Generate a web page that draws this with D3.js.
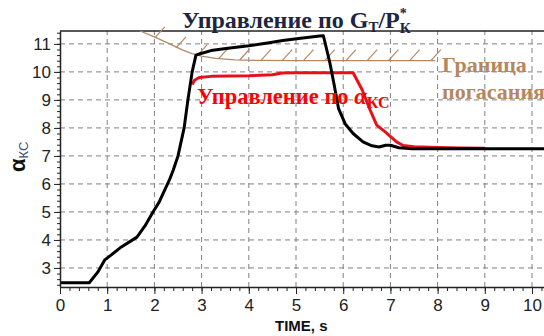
<!DOCTYPE html>
<html>
<head>
<meta charset="utf-8">
<script src="https://cdn.jsdelivr.net/npm/d3@7"></script>
<style>
  html, body { margin: 0; padding: 0; background: #fff; }
  svg { display: block; }
  .tick text { font-family: "Liberation Sans", Arial, sans-serif; font-size: 17px; fill: #222; }
</style>
</head>
<body>
<svg id="chart" width="544" height="336"></svg>
<script>
/* ── Data ──────────────────────────────────────────────────────────────── */
const blackT = [0, 0.62, 0.8, 0.95, 1.06, 1.3, 1.63, 1.8, 1.97, 2.1, 2.22, 2.32, 2.4, 2.5, 2.63, 2.71, 2.8, 2.88, 2.95, 3.2, 3.6, 4.0, 4.4, 4.72, 5.1, 5.5, 5.58, 5.65, 5.72, 5.79, 5.9, 6.04, 6.21, 6.42, 6.61, 6.76, 6.9, 7.0, 7.18, 7.46, 8, 9, 10.3];
const blackA = [2.47, 2.47, 2.85, 3.29, 3.43, 3.75, 4.1, 4.5, 5.0, 5.35, 5.79, 6.15, 6.5, 7.0, 8.0, 9.0, 10.0, 10.6, 10.64, 10.76, 10.85, 10.93, 11.03, 11.12, 11.2, 11.28, 11.29, 10.8, 10.3, 9.7, 8.7, 8.15, 7.8, 7.5, 7.36, 7.32, 7.38, 7.38, 7.29, 7.26, 7.26, 7.26, 7.26];

const redT = [2.8, 2.85, 2.95, 3.2, 3.6, 4.0, 4.5, 4.7, 5.0, 5.5, 6.0, 6.21, 6.4, 6.57, 6.71, 6.89, 7.13, 7.27, 7.5, 8.0, 8.5, 9.0];
const redA = [9.55, 9.7, 9.8, 9.84, 9.85, 9.86, 9.9, 9.96, 9.97, 9.97, 9.97, 9.97, 9.36, 8.64, 8.1, 7.86, 7.5, 7.37, 7.33, 7.3, 7.28, 7.27];

const boundT = [1.7, 2.0, 2.3, 2.6, 2.8, 3.0, 3.3, 3.7, 4.2, 5, 6, 7, 7.95];
const boundA = [11.46, 11.25, 11.02, 10.78, 10.65, 10.56, 10.48, 10.43, 10.41, 10.40, 10.40, 10.40, 10.40];
const hatchT = [2.05, 2.5, 2.95, 3.4, 3.85, 4.3, 4.75, 5.2, 5.65, 6.1, 6.55, 7.0, 7.45, 7.9];

const xTicks = [0, 1, 2, 3, 4, 5, 6, 7, 8, 9, 10];
const yTicks = [3, 4, 5, 6, 7, 8, 9, 10, 11];

/* ── Layout ────────────────────────────────────────────────────────────── */
const svg = d3.select('#chart');
const x = d3.scaleLinear().domain([0, 10.254]).range([60, 544]);
const y = d3.scaleLinear().domain([2.32, 11.46]).range([287, 31]);

const line = (ts, as) => d3.line().x((d, i) => x(ts[i])).y((d, i) => y(as[i]))(ts);

/* grid */
const grid = svg.append('g').attr('stroke', '#808080').attr('stroke-width', 1)
  .attr('stroke-dasharray', '5,4').attr('fill', 'none');
xTicks.filter(d => d > 0).forEach(d => {
  grid.append('line').attr('x1', x(d)).attr('x2', x(d)).attr('y1', y.range()[0]).attr('y2', y.range()[1]);
});
yTicks.forEach(d => {
  grid.append('line').attr('x1', x.range()[0]).attr('x2', x.range()[1]).attr('y1', y(d)).attr('y2', y(d));
});

/* top frame */
svg.append('line').attr('x1', 60).attr('x2', 544).attr('y1', y.range()[1]).attr('y2', y.range()[1])
  .attr('stroke', '#222').attr('stroke-width', 1.5);

/* boundary + hatching */
const bnd = d3.scaleLinear().domain(boundT).range(boundA);
svg.append('path').attr('d', line(boundT, boundA)).attr('fill', 'none')
  .attr('stroke', '#b38a67').attr('stroke-width', 1.3);
svg.append('g').selectAll('line').data(hatchT).join('line')
  .attr('x1', d => x(d) - 2).attr('y1', d => y(bnd(d)))
  .attr('x2', d => x(d) + 8).attr('y2', d => y(bnd(d)) - 11)
  .attr('stroke', '#b38a67').attr('stroke-width', 1.2);

/* curves */
svg.append('path').attr('d', line(redT, redA)).attr('fill', 'none')
  .attr('stroke', '#e8101a').attr('stroke-width', 3).attr('stroke-linejoin', 'round');
svg.append('path').attr('d', line(blackT, blackA)).attr('fill', 'none')
  .attr('stroke', '#000').attr('stroke-width', 3).attr('stroke-linejoin', 'round');

/* axes */
const xAxisG = svg.append('g').attr('transform', `translate(0,${y.range()[0]})`);
xAxisG.call(d3.axisBottom(x).tickValues(d3.range(0, 10.25, 0.2)).tickSize(4).tickFormat(''));
xAxisG.call(g => g.selectAll('.domain').remove());
const xMaj = svg.append('g').attr('transform', `translate(0,${y.range()[0]})`)
  .call(d3.axisBottom(x).tickValues(xTicks).tickSize(7).tickSizeOuter(0).tickPadding(5).tickFormat(d3.format('d')));
xMaj.select('.domain').attr('stroke', '#222').attr('stroke-width', 1.5);

const yAxisG = svg.append('g').attr('transform', `translate(60,0)`);
yAxisG.call(d3.axisLeft(y).tickValues(d3.range(2.4, 11.45, 0.2)).tickSize(3).tickFormat(''));
yAxisG.call(g => g.selectAll('.domain').remove());
const yMaj = svg.append('g').attr('transform', `translate(60,0)`)
  .call(d3.axisLeft(y).tickValues(yTicks).tickSize(6).tickSizeOuter(0).tickPadding(3).tickFormat(d3.format('d')));
yMaj.select('.domain').attr('stroke', '#222').attr('stroke-width', 1.5);
svg.selectAll('.tick line').attr('stroke', '#222');

/* axis titles */
svg.append('text').attr('x', 275).attr('y', 331)
  .attr('font-family', '"Liberation Sans Narrow", "Liberation Sans", Arial, sans-serif')
  .attr('font-weight', 'bold').attr('font-size', 15).attr('fill', '#111')
  .text('TIME, s');

const yt = svg.append('text').attr('transform', 'translate(25,172) rotate(-90)')
  .attr('font-family', '"Liberation Sans", Arial, sans-serif').attr('fill', '#111');
yt.append('tspan').attr('font-weight', 'bold').attr('font-size', 22).text('α');
yt.append('tspan').attr('font-size', 13).attr('dy', 3).attr('fill', '#3a4f7a').text('КС');

/* title */
const serif = '"Liberation Serif", "Times New Roman", serif';
const t = svg.append('text').attr('x', 182).attr('y', 28)
  .attr('font-family', serif).attr('font-weight', 'bold').attr('font-size', 24).attr('fill', '#1c2541');
t.append('tspan').text('Управление по G');
t.append('tspan').attr('font-size', 15).attr('dy', 4).text('Т');
t.append('tspan').attr('dy', -4).text('/P');
t.append('tspan').attr('font-size', 14).attr('dy', -10).text('*');
t.append('tspan').attr('font-size', 15).attr('dx', -7).attr('dy', 15).text('К');

/* red label */
const r = svg.append('text').attr('x', 197).attr('y', 104)
  .attr('font-family', serif).attr('font-weight', 'bold').attr('font-size', 22.5).attr('fill', '#ff0000');
r.append('tspan').text('Управление по ');
r.append('tspan').attr('font-style', 'italic').text('α');
r.append('tspan').attr('font-size', 16).attr('dy', 4).text('КС');

/* boundary label */
const b = svg.append('g').attr('font-family', serif).attr('font-weight', 'bold')
  .attr('font-size', 22).attr('fill', '#b4875f');
b.append('text').attr('x', 442).attr('y', 72).text('Граница');
b.append('text').attr('x', 442).attr('y', 99).text('погасания');
</script>
</body>
</html>
